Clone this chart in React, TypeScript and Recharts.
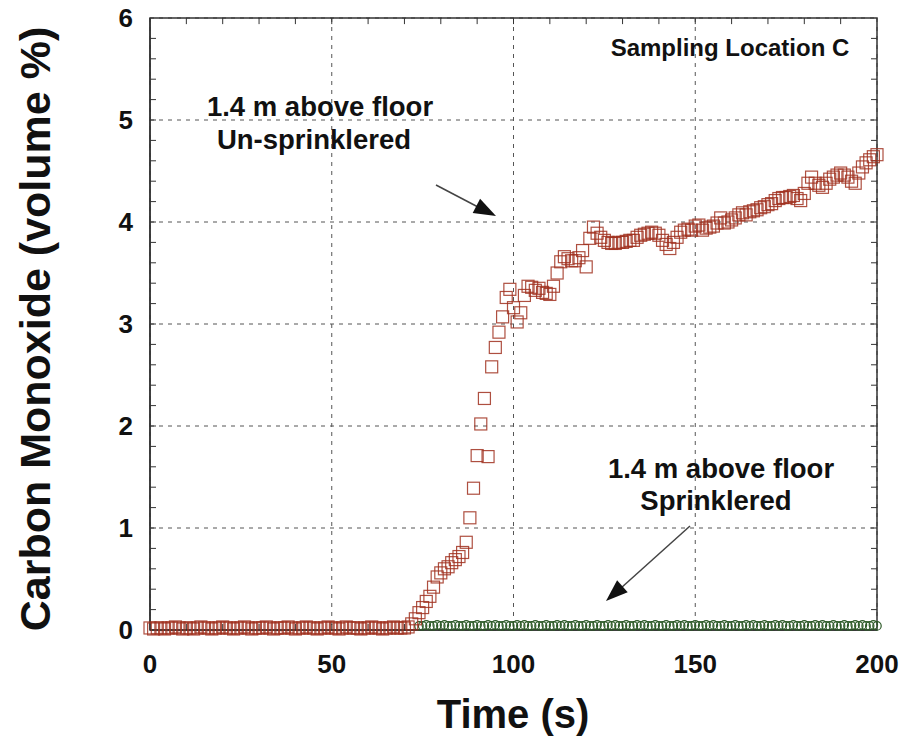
import React from 'react';
import {
  ScatterChart,
  Scatter,
  XAxis,
  YAxis,
  CartesianGrid,
  ReferenceLine,
  ReferenceArea,
} from 'recharts';

// Sampling interval 1 s
const unsprinkleredStart = 0;
const unsprinkleredCO = [
  0.02, 0.01, 0.02, 0.02, 0.01, 0.02, 0.02, 0.03, 0.02, 0.01,
  0.02, 0.02, 0.01, 0.02, 0.03, 0.02, 0.02, 0.01, 0.02, 0.02,
  0.03, 0.02, 0.02, 0.01, 0.02, 0.02, 0.03, 0.02, 0.01, 0.02,
  0.02, 0.02, 0.03, 0.02, 0.01, 0.02, 0.02, 0.02, 0.03, 0.02,
  0.01, 0.02, 0.02, 0.03, 0.02, 0.02, 0.01, 0.02, 0.02, 0.03,
  0.02, 0.02, 0.01, 0.02, 0.03, 0.02, 0.02, 0.02, 0.01, 0.02,
  0.02, 0.03, 0.02, 0.02, 0.01, 0.02, 0.02, 0.03, 0.02, 0.02,
  0.02, 0.03, 0.06, 0.11, 0.17, 0.22, 0.28, 0.33, 0.42, 0.52,
  0.56, 0.60, 0.62, 0.66, 0.69, 0.72, 0.76, 0.86, 1.10, 1.39,
  1.71, 2.02, 2.27, 1.70, 2.58, 2.77, 2.92, 3.07, 3.26, 3.34,
  3.16, 3.02, 3.11, 3.28, 3.37, 3.36, 3.33, 3.35, 3.31, 3.30,
  3.29, 3.37, 3.50, 3.61, 3.66, 3.64, 3.62, 3.62, 3.65, 3.72,
  3.56, 3.84, 3.95, 3.89, 3.85, 3.82, 3.80, 3.79, 3.79, 3.80,
  3.80, 3.81, 3.82, 3.82, 3.85, 3.87, 3.88, 3.89, 3.90, 3.89,
  3.87, 3.82, 3.78, 3.74, 3.80, 3.85, 3.90, 3.92, 3.93, 3.92,
  3.96, 3.97, 3.92, 3.94, 3.95, 3.96, 3.99, 4.04, 3.99, 4.00,
  4.02, 4.04, 4.07, 4.09, 4.07, 4.10, 4.11, 4.12, 4.14, 4.15,
  4.17, 4.18, 4.21, 4.23, 4.24, 4.24, 4.25, 4.26, 4.23, 4.21,
  4.28, 4.38, 4.44, 4.38, 4.36, 4.34, 4.38, 4.42, 4.44, 4.46,
  4.48, 4.46, 4.44, 4.40, 4.38, 4.48, 4.54, 4.58, 4.61, 4.64,
  4.66,
];

const sprinkleredStart = 74;
const sprinkleredCO = [
  0.04, 0.04, 0.05, 0.04, 0.04, 0.05,
  0.04, 0.05, 0.04, 0.04, 0.05, 0.04, 0.04, 0.05, 0.04, 0.04,
  0.05, 0.04, 0.04, 0.05, 0.04, 0.05, 0.04, 0.04, 0.05, 0.04,
  0.04, 0.05, 0.04, 0.05, 0.04, 0.04, 0.05, 0.04, 0.04, 0.05,
  0.04, 0.04, 0.05, 0.04, 0.05, 0.04, 0.04, 0.05, 0.04, 0.04,
  0.05, 0.04, 0.04, 0.05, 0.04, 0.04, 0.05, 0.04, 0.05, 0.04,
  0.04, 0.05, 0.04, 0.04, 0.05, 0.04, 0.05, 0.04, 0.04, 0.05,
  0.04, 0.04, 0.05, 0.04, 0.04, 0.05, 0.04, 0.05, 0.04, 0.04,
  0.05, 0.04, 0.04, 0.05, 0.04, 0.05, 0.04, 0.04, 0.05, 0.04,
  0.04, 0.05, 0.04, 0.04, 0.05, 0.04, 0.05, 0.04, 0.04, 0.05,
  0.04, 0.04, 0.05, 0.04, 0.05, 0.04, 0.04, 0.05, 0.04, 0.04,
  0.05, 0.04, 0.04, 0.05, 0.04, 0.05, 0.04, 0.04, 0.05, 0.04,
  0.04, 0.05, 0.04, 0.04, 0.05, 0.04, 0.05, 0.04, 0.04, 0.05,
  0.04,
];

const xTicks = [0, 50, 100, 150, 200];
const yTicks = [0, 1, 2, 3, 4, 5, 6];
const xMinorTicks = [10, 20, 30, 40, 50, 60, 70, 80, 90, 100, 110, 120, 130, 140, 150, 160, 170, 180, 190];
const yMinorTicks = [
  0.2, 0.4, 0.6, 0.8, 1, 1.2, 1.4, 1.6, 1.8, 2, 2.2, 2.4, 2.6, 2.8, 3,
  3.2, 3.4, 3.6, 3.8, 4, 4.2, 4.4, 4.6, 4.8, 5, 5.2, 5.4, 5.6, 5.8,
];

const unsprinkleredData = unsprinkleredCO.map((v, i) => ({ t: unsprinkleredStart + i, co: v }));
const sprinkleredData = sprinkleredCO.map((v, i) => ({ t: sprinkleredStart + i, co: v }));

const FONT = '"Liberation Sans", Arial, Helvetica, sans-serif';
const X_MAX = 200;
const Y_MAX = 6;
const TICK_X = 1.65; // ~6px in x units
const TICK_Y = 0.06; // ~6px in y units

const SquareShape = (p: any) => (
  <rect
    x={p.cx - 6}
    y={p.cy - 6}
    width={12}
    height={12}
    fill="none"
    stroke="#a0301f"
    strokeOpacity={0.85}
    strokeWidth={1.2}
  />
);

const CircleShape = (p: any) => (
  <circle cx={p.cx} cy={p.cy} r={4.2} fill="none" stroke="#2d5a28" strokeWidth={1.2} />
);

const XTick = (p: any) => (
  <text
    x={p.x}
    y={p.y}
    dy={35}
    textAnchor="middle"
    fontFamily={FONT}
    fontWeight="bold"
    fontSize={26}
    fill="#111"
  >
    {p.payload.value}
  </text>
);

const YTick = (p: any) => (
  <text
    x={p.x}
    y={p.y}
    dx={-9}
    dy={9}
    textAnchor="end"
    fontFamily={FONT}
    fontWeight="bold"
    fontSize={26}
    fill="#111"
  >
    {p.payload.value}
  </text>
);

const textStyle = {
  fontFamily: FONT,
  fontWeight: 'bold' as const,
  fill: '#111',
};

export default function App() {
  return (
    <div style={{ position: 'absolute', left: 0, top: 0, width: 903, height: 740, background: '#fff' }}>
      <ScatterChart
        width={903}
        height={740}
        margin={{ top: 18, right: 26, bottom: 0, left: 0 }}
      >
        <CartesianGrid
          stroke="#555"
          strokeDasharray="4 5"
          strokeWidth={1}
          horizontalValues={yTicks}
          verticalValues={xTicks}
        />
        <XAxis
          type="number"
          dataKey="t"
          domain={[0, X_MAX]}
          ticks={xTicks}
          interval={0}
          height={110}
          tickLine={false}
          axisLine={{ stroke: '#333', strokeWidth: 1.5 }}
          tick={<XTick />}
        />
        <YAxis
          type="number"
          dataKey="co"
          domain={[0, Y_MAX]}
          ticks={yTicks}
          interval={0}
          width={150}
          tickLine={false}
          axisLine={{ stroke: '#333', strokeWidth: 1.5 }}
          tick={<YTick />}
        />
        <ReferenceArea x1={0} x2={X_MAX} y1={0} y2={Y_MAX} fill="none" stroke="#333" strokeWidth={1.5} />
        {xMinorTicks.map((t) => (
          <ReferenceLine key={'xb' + t} segment={[{ x: t, y: 0 }, { x: t, y: TICK_Y }]} stroke="#333" />
        ))}
        {xMinorTicks.map((t) => (
          <ReferenceLine key={'xt' + t} segment={[{ x: t, y: Y_MAX }, { x: t, y: Y_MAX - TICK_Y }]} stroke="#333" />
        ))}
        {yMinorTicks.map((v) => (
          <ReferenceLine key={'yl' + v} segment={[{ x: 0, y: v }, { x: TICK_X, y: v }]} stroke="#333" />
        ))}
        {yMinorTicks.map((v) => (
          <ReferenceLine key={'yr' + v} segment={[{ x: X_MAX, y: v }, { x: X_MAX - TICK_X, y: v }]} stroke="#333" />
        ))}
        <Scatter
          name="1.4 m above floor Sprinklered"
          data={sprinkleredData}
          shape={<CircleShape />}
          isAnimationActive={false}
        />
        <Scatter
          name="1.4 m above floor Un-sprinklered"
          data={unsprinkleredData}
          shape={<SquareShape />}
          isAnimationActive={false}
        />

        {/* axis titles */}
        <text x={513} y={728} textAnchor="middle" fontSize={40} {...textStyle}>Time (s)</text>
        <text transform="translate(50,329) rotate(-90)" textAnchor="middle" fontSize={43} {...textStyle}>
          Carbon Monoxide (volume %)
        </text>

        {/* annotations */}
        <text x={730} y={56} textAnchor="middle" fontSize={24} {...textStyle}>Sampling Location C</text>
        <text x={320} y={116} textAnchor="middle" fontSize={27.5} {...textStyle}>1.4 m above floor</text>
        <text x={314} y={149} textAnchor="middle" fontSize={27.5} {...textStyle}>Un-sprinklered</text>
        <text x={721} y={478} textAnchor="middle" fontSize={27.5} {...textStyle}>1.4 m above floor</text>
        <text x={716} y={510} textAnchor="middle" fontSize={27.5} {...textStyle}>Sprinklered</text>

        {/* arrows */}
        <line x1={436} y1={185} x2={478} y2={207} stroke="#444" strokeWidth={1.5} />
        <polygon points="496,216 472.7,213 480.1,198.8" fill="#111" />
        <line x1={690} y1={526} x2={621} y2={588} stroke="#444" strokeWidth={1.5} />
        <polygon points="606,601 617.1,580.3 627.7,592.3" fill="#111" />
      </ScatterChart>
    </div>
  );
}
